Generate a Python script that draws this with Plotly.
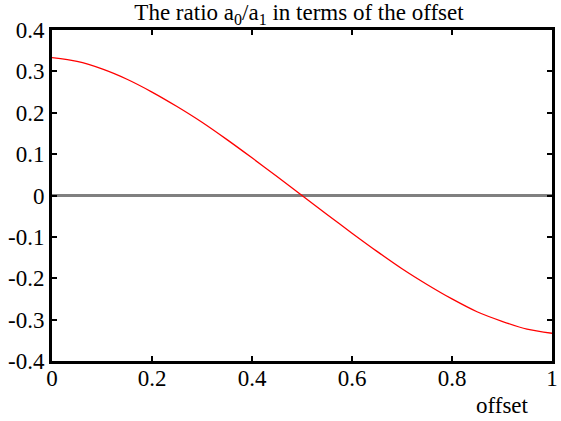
import plotly.graph_objects as go

offset = [0.0, 0.05, 0.1, 0.15, 0.2, 0.25, 0.3, 0.35, 0.4, 0.45, 0.5,
          0.55, 0.6, 0.65, 0.7, 0.75, 0.8, 0.85, 0.9, 0.95, 1.0]
ratio = [0.333, 0.324, 0.306, 0.281, 0.250, 0.215, 0.177, 0.135, 0.091, 0.046, 0.0,
         -0.046, -0.091, -0.135, -0.177, -0.215, -0.250, -0.281, -0.304, -0.323, -0.333]

x_ticks = [0, 0.2, 0.4, 0.6, 0.8, 1]
x_labels = ["0", "0.2", "0.4", "0.6", "0.8", "1"]
y_ticks = [0.4, 0.3, 0.2, 0.1, 0, -0.1, -0.2, -0.3, -0.4]
y_labels = ["0.4", "0.3", "0.2", "0.1", "0", "-0.1", "-0.2", "-0.3", "-0.4"]

title_text = "The ratio a<sub>0</sub>/a<sub>1</sub> in terms of the offset"
x_title = "offset"

FONT = "Liberation Serif, Times New Roman, serif"
FS = 23

fig = go.Figure()
fig.add_trace(go.Scatter(x=offset, y=ratio, mode="lines",
                         line=dict(color="#ff0000", width=1.3, shape="spline", smoothing=0.8),
                         showlegend=False, hoverinfo="x+y"))

axis_common = dict(showline=True, linecolor="black", linewidth=3, mirror="allticks",
                   ticks="inside", ticklen=5, tickwidth=2, tickcolor="black",
                   showgrid=False, tickfont=dict(family=FONT, size=FS, color="black"))

fig.update_xaxes(range=[0, 1], tickvals=x_ticks, ticktext=x_labels,
                 zeroline=False, ticklabelstandoff=-6, **axis_common)
fig.update_yaxes(range=[-0.4, 0.4], tickvals=y_ticks, ticktext=y_labels,
                 zeroline=True, zerolinecolor="#808080", zerolinewidth=3,
                 **axis_common)

fig.update_layout(
    width=561, height=421,
    margin=dict(l=52, r=3, t=30, b=60),
    paper_bgcolor="white", plot_bgcolor="white",
    title=dict(text=title_text, x=299 / 561, xref="container", xanchor="center",
               y=1 - 12 / 421, yref="container", yanchor="middle",
               font=dict(family=FONT, size=FS, color="black")),
    annotations=[dict(text=x_title, xref="paper", yref="paper",
                      x=(508 - 52) / 506, y=-(405 - 361) / 331,
                      xanchor="center", yanchor="middle", showarrow=False,
                      font=dict(family=FONT, size=FS, color="black"))],
)

fig.write_html("out.html")
